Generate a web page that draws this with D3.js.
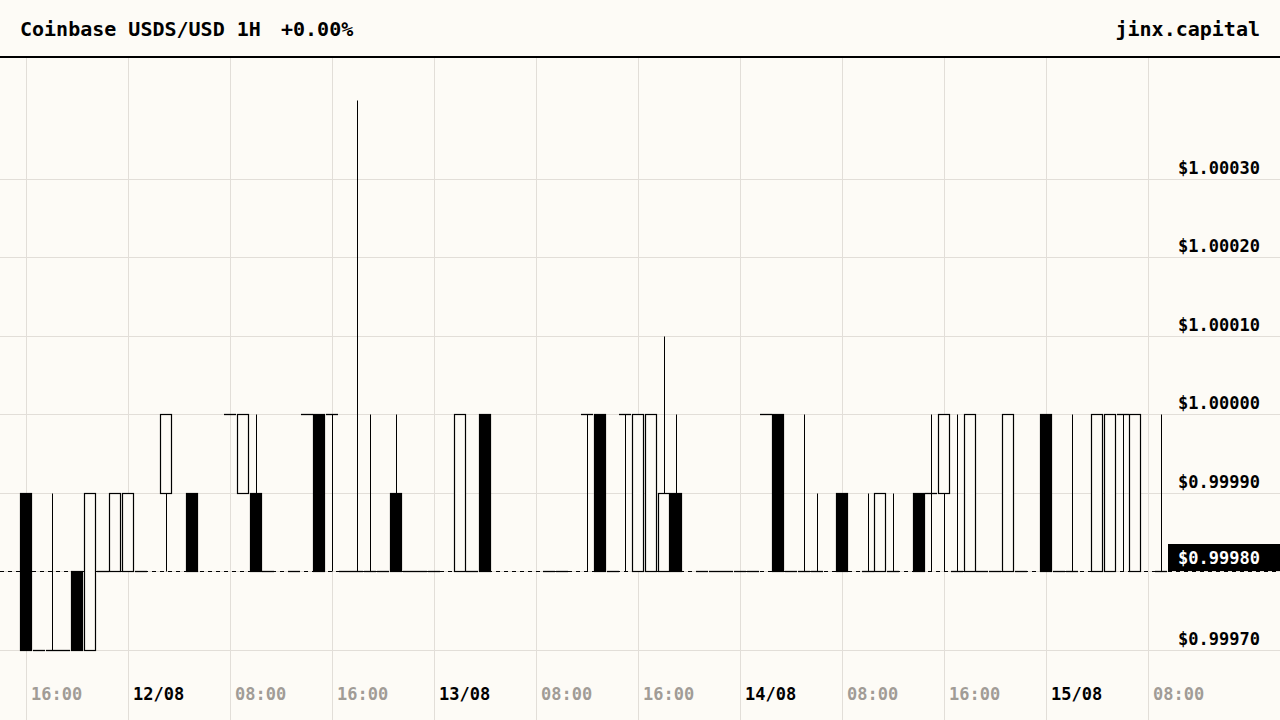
<!DOCTYPE html>
<html><head><meta charset="utf-8">
<script src="https://cdn.jsdelivr.net/npm/d3@7"></script>
<style>html,body{margin:0;padding:0;background:#fdfbf6;} svg{display:block;}</style>
</head><body><svg id="c" width="1280" height="720"></svg>
<script>
// ---- data ----
const times = ["08-11 16","08-11 17","08-11 18","08-11 19","08-11 20","08-11 21","08-11 22","08-11 23",
"08-12 00","08-12 01","08-12 03","08-12 05","08-12 08","08-12 09","08-12 10","08-12 11","08-12 13","08-12 14","08-12 15",
"08-12 16","08-12 17","08-12 18","08-12 19","08-12 20","08-12 21","08-12 22","08-12 23",
"08-13 00","08-13 02","08-13 03","08-13 04","08-13 09","08-13 10","08-13 12","08-13 13","08-13 14","08-13 15",
"08-13 16","08-13 17","08-13 18","08-13 19","08-13 21","08-13 22","08-13 23",
"08-14 00","08-14 01","08-14 02","08-14 03","08-14 04","08-14 05","08-14 06","08-14 08","08-14 10","08-14 11","08-14 12",
"08-14 14","08-14 15","08-14 16","08-14 17","08-14 18","08-14 19","08-14 20","08-14 21","08-14 22",
"08-15 00","08-15 01","08-15 02","08-15 04","08-15 05","08-15 06","08-15 07","08-15 09"];
const open  = [0.9999,0.9997,0.9997,0.9997,0.9998,0.9997,0.9998,0.9998,
0.9998,0.9998,0.9999,0.9999,1.0000,0.9999,0.9999,0.9998,0.9998,1.0000,1.0000,
1.0000,0.9998,0.9998,0.9998,0.9998,0.9999,0.9998,0.9998,
0.9998,0.9998,0.9998,1.0000,0.9998,0.9998,1.0000,1.0000,0.9998,1.0000,
0.9998,0.9998,0.9998,0.9999,0.9998,0.9998,0.9998,
0.9998,0.9998,1.0000,1.0000,0.9998,0.9998,0.9998,0.9999,0.9998,0.9998,0.9998,
0.9999,0.9999,0.9999,0.9998,0.9998,0.9998,0.9998,0.9998,0.9998,
1.0000,0.9998,0.9998,0.9998,0.9998,1.0000,0.9998,0.9998];
const high  = [0.9999,0.9997,0.9999,0.9997,0.9998,0.9999,0.9998,0.9999,
0.9999,0.9998,1.0000,0.9999,1.0000,1.0000,1.0000,0.9998,0.9998,1.0000,1.0000,
1.0000,0.9998,1.0004,1.0000,0.9998,1.0000,0.9998,0.9998,
0.9998,1.0000,0.9998,1.0000,0.9998,0.9998,1.0000,1.0000,0.9998,1.0000,
1.0000,1.0000,1.0001,1.0000,0.9998,0.9998,0.9998,
0.9998,0.9998,1.0000,1.0000,0.9998,1.0000,0.9999,0.9999,0.9999,0.9999,0.9999,
0.9999,1.0000,1.0000,1.0000,1.0000,0.9998,0.9998,1.0000,0.9998,
1.0000,0.9998,1.0000,1.0000,1.0000,1.0000,1.0000,1.0000];
const low   = [0.9997,0.9997,0.9997,0.9997,0.9997,0.9997,0.9998,0.9998,
0.9998,0.9998,0.9998,0.9998,1.0000,0.9999,0.9998,0.9998,0.9998,1.0000,0.9998,
0.9998,0.9998,0.9998,0.9998,0.9998,0.9998,0.9998,0.9998,
0.9998,0.9998,0.9998,0.9998,0.9998,0.9998,0.9998,0.9998,0.9998,0.9998,
0.9998,0.9998,0.9998,0.9998,0.9998,0.9998,0.9998,
0.9998,0.9998,1.0000,0.9998,0.9998,0.9998,0.9998,0.9998,0.9998,0.9998,0.9998,
0.9998,0.9998,0.9998,0.9998,0.9998,0.9998,0.9998,0.9998,0.9998,
0.9998,0.9998,0.9998,0.9998,0.9998,0.9998,0.9998,0.9998];
const close = [0.9997,0.9997,0.9997,0.9997,0.9997,0.9999,0.9998,0.9999,
0.9999,0.9998,1.0000,0.9998,1.0000,1.0000,0.9998,0.9998,0.9998,1.0000,0.9998,
1.0000,0.9998,0.9998,0.9998,0.9998,0.9998,0.9998,0.9998,
0.9998,1.0000,0.9998,0.9998,0.9998,0.9998,1.0000,0.9998,0.9998,1.0000,
1.0000,1.0000,0.9999,0.9998,0.9998,0.9998,0.9998,
0.9998,0.9998,1.0000,0.9998,0.9998,0.9998,0.9998,0.9998,0.9998,0.9999,0.9998,
0.9998,0.9999,1.0000,0.9998,1.0000,0.9998,0.9998,1.0000,0.9998,
0.9998,0.9998,0.9998,1.0000,1.0000,1.0000,1.0000,0.9998];
const yTicks = [0.9997,0.9998,0.9999,1.0000,1.0001,1.0002,1.0003];
const lastPrice = 0.9998;
const year = "2025";
const titleText = "Coinbase USDS/USD 1H";
const changeText = "+0.00%";
const brandText = "jinx.capital";

// ---- styling ----
const W = 1280, H = 720;
const BG = "#fdfbf6", GRID = "#e2ded8", GREY = "#a19c96";
const FONT = "'DejaVu Sans Mono', monospace";
const headerY = 57, plotRight = 1168;

const parse = d3.timeParse("%Y-%m-%d %H");
const candles = times.map((t, i) => ({t: parse(year + "-" + t), o: open[i], h: high[i], l: low[i], c: close[i]}));

const x = d3.scaleTime().domain([candles[0].t, candles[candles.length - 1].t]).range([26, 1160.75]);
const y = d3.scaleLinear().domain([0.9997, 1.0003]).range([649.9, 178.9]);

const svg = d3.select("#c");
svg.append("rect").attr("width", W).attr("height", H).attr("fill", BG);

// grid
const xTicks = x.ticks(d3.timeHour.every(8));
svg.append("g").selectAll("line").data(xTicks).join("line")
  .attr("x1", d => Math.round(x(d)) + 0.5).attr("x2", d => Math.round(x(d)) + 0.5)
  .attr("y1", headerY).attr("y2", H).attr("stroke", GRID).attr("stroke-width", 1);
svg.append("g").selectAll("line").data(yTicks).join("line")
  .attr("x1", 0).attr("x2", W)
  .attr("y1", d => Math.round(y(d)) + 0.5).attr("y2", d => Math.round(y(d)) + 0.5)
  .attr("stroke", GRID).attr("stroke-width", 1);

// last price dashed line
svg.append("line").attr("x1", 0).attr("x2", W)
  .attr("y1", Math.round(y(lastPrice)) + 0.5).attr("y2", Math.round(y(lastPrice)) + 0.5)
  .attr("stroke", "#000").attr("stroke-width", 1).attr("stroke-dasharray", "4,4");

// candles
const bw = 11;
const g = svg.append("g");
candles.forEach(d => {
  const cx = x(d.t);
  const wx = Math.round(cx) + 0.5;
  const yH = Math.round(y(d.h)), yL = Math.round(y(d.l)), yO = Math.round(y(d.o)), yC = Math.round(y(d.c));
  if (yL - yH > 0) {
    g.append("line").attr("x1", wx).attr("x2", wx)
      .attr("y1", yH + 0.5).attr("y2", yL + 0.5)
      .attr("stroke", "#000").attr("stroke-width", 1);
  }
  const bx = Math.round(cx - 6) + 0.5;
  const top = Math.min(yO, yC), bot = Math.max(yO, yC);
  if (bot - top < 1) {
    g.append("line").attr("x1", bx - 0.5).attr("x2", bx + bw + 0.5)
      .attr("y1", yO + 0.5).attr("y2", yO + 0.5)
      .attr("stroke", "#000").attr("stroke-width", 1.3);
  } else {
    g.append("rect").attr("x", bx).attr("y", top + 0.5)
      .attr("width", bw).attr("height", bot - top)
      .attr("fill", d.c < d.o ? "#000" : BG)
      .attr("stroke", "#000").attr("stroke-width", 1.2);
  }
});

// y axis labels
const fmtP = v => "$" + v.toFixed(5);
svg.append("g").selectAll("text").data(yTicks.filter(v => v !== lastPrice)).join("text")
  .attr("x", 1260).attr("y", d => Math.round(y(d)) - 5)
  .attr("text-anchor", "end").attr("font-family", FONT).attr("font-weight", "bold")
  .attr("font-size", 17).attr("fill", "#000").text(fmtP);

// last price label
svg.append("rect").attr("x", plotRight).attr("y", Math.round(y(lastPrice)) - 27)
  .attr("width", W - plotRight).attr("height", 27).attr("fill", "#000");
svg.append("text").attr("x", 1260).attr("y", Math.round(y(lastPrice)) - 7)
  .attr("text-anchor", "end").attr("font-family", FONT).attr("font-weight", "bold")
  .attr("font-size", 17).attr("fill", "#fff").text(fmtP(lastPrice));

// x axis labels
const fmtDate = d3.timeFormat("%d/%m"), fmtTime = d3.timeFormat("%H:%M");
svg.append("g").selectAll("text").data(xTicks).join("text")
  .attr("x", d => Math.round(x(d)) + 5).attr("y", 700)
  .attr("font-family", FONT).attr("font-weight", "bold").attr("font-size", 17)
  .attr("fill", d => d.getHours() === 0 ? "#000" : GREY)
  .text(d => d.getHours() === 0 ? fmtDate(d) : fmtTime(d));

// header
svg.append("rect").attr("x", 0).attr("y", 0).attr("width", W).attr("height", headerY).attr("fill", BG);
svg.append("line").attr("x1", 0).attr("x2", W).attr("y1", headerY).attr("y2", headerY)
  .attr("stroke", "#000").attr("stroke-width", 2);
svg.append("text").attr("x", 20).attr("y", 35.5)
  .attr("font-family", FONT).attr("font-weight", "bold").attr("font-size", 20)
  .attr("fill", "#000").text(titleText);
svg.append("text").attr("x", 281).attr("y", 35.5)
  .attr("font-family", FONT).attr("font-weight", "bold").attr("font-size", 20)
  .attr("fill", "#000").text(changeText);
svg.append("text").attr("x", 1260).attr("y", 35.5).attr("text-anchor", "end")
  .attr("font-family", FONT).attr("font-weight", "bold").attr("font-size", 20)
  .attr("fill", "#000").text(brandText);
</script></body></html>
